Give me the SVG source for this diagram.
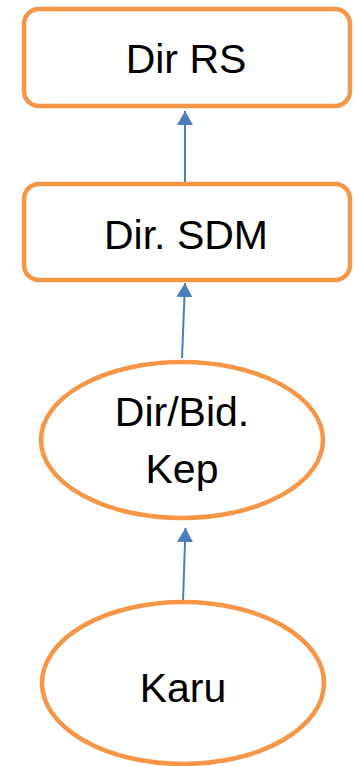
<svg xmlns="http://www.w3.org/2000/svg" width="355" height="766" viewBox="0 0 355 766">
  <style>
    .node { fill: #ffffff; stroke: #F79646; stroke-width: 4.5; }
    .label { font-family: "Liberation Sans", Arial, sans-serif; font-size: 41px; fill: #000000; text-anchor: middle; }
    .edge { stroke: #4A7EBB; stroke-width: 2; fill: none; marker-end: url(#arrow); }
  </style>
  <defs>
    <marker id="arrow" markerWidth="8" markerHeight="8" refX="7" refY="4" orient="auto" markerUnits="strokeWidth">
      <path d="M0,0 L7,4 L0,8 Z" fill="#4A7EBB"/>
    </marker>
  </defs>
  <rect width="355" height="766" fill="#ffffff"/>
  <g id="connectors">
    <line class="edge" x1="185" y1="182" x2="185" y2="111"/>
    <line class="edge" x1="182" y1="358" x2="185" y2="283"/>
    <line class="edge" x1="183" y1="601" x2="185.5" y2="528"/>
  </g>
  <g id="dir-rs">
    <rect class="node" x="24" y="9" width="326" height="97" rx="15"/>
    <text class="label" x="186" y="73">Dir RS</text>
  </g>
  <g id="dir-sdm">
    <rect class="node" x="24" y="184" width="326" height="96" rx="15"/>
    <text class="label" x="186" y="249">Dir. SDM</text>
  </g>
  <g id="dir-bid-kep">
    <ellipse class="node" cx="182" cy="440" rx="141" ry="78"/>
    <text class="label" x="182" y="426">Dir/Bid.</text>
    <text class="label" x="182" y="483">Kep</text>
  </g>
  <g id="karu">
    <ellipse class="node" cx="183" cy="683" rx="141" ry="81"/>
    <text class="label" x="183" y="702">Karu</text>
  </g>
</svg>
